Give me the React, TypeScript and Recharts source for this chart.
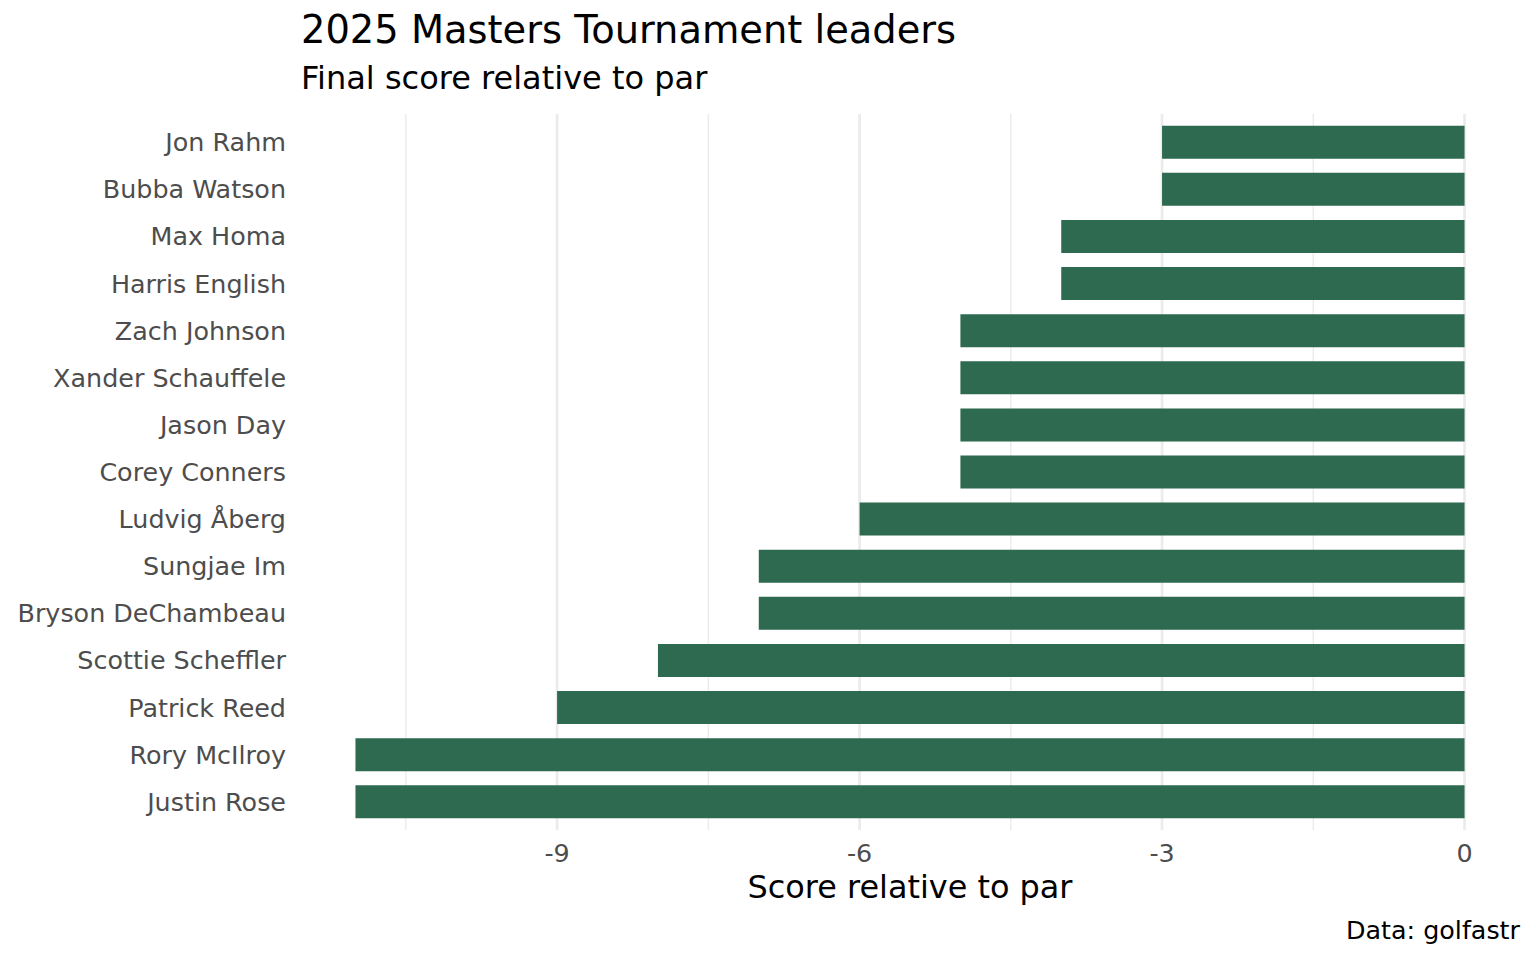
import React from "react";
import { BarChart, Bar, XAxis, YAxis, CartesianGrid } from "recharts";

const players = [
  "Jon Rahm",
  "Bubba Watson",
  "Max Homa",
  "Harris English",
  "Zach Johnson",
  "Xander Schauffele",
  "Jason Day",
  "Corey Conners",
  "Ludvig Åberg",
  "Sungjae Im",
  "Bryson DeChambeau",
  "Scottie Scheffler",
  "Patrick Reed",
  "Rory McIlroy",
  "Justin Rose",
];

const scores = [-3, -3, -4, -4, -5, -5, -5, -5, -6, -7, -7, -8, -9, -11, -11];

const majorTicks = [-9, -6, -3, 0];
const allTicks = [-10.5, -9, -7.5, -6, -4.5, -3, -1.5, 0];
const xDomain = [-11.55, 0.55];

const data = players.map((p, i) => ({ player: p, score: scores[i] }));

const FONT = "'DejaVu Sans', sans-serif";
const W = 1536;
const H = 960;

const GridLine = (props: any) => {
  if (props.index == null || props.index >= allTicks.length) return <g />;
  const v = allTicks[props.index];
  const major = majorTicks.includes(v);
  return (
    <line
      x1={props.x1}
      y1={props.y1}
      x2={props.x2}
      y2={props.y2}
      stroke="#ebebeb"
      strokeWidth={major ? 2.7 : 1.4}
    />
  );
};

export default function App() {
  return (
    <div style={{ position: "absolute", left: 0, top: 0, width: W, height: H, background: "#fff" }}>
      <BarChart
        width={W}
        height={H}
        data={data}
        layout="vertical"
        margin={{ top: 114, right: 16, bottom: 100, left: 0 }}
        barCategoryGap="15%"
      >
        <CartesianGrid horizontal={false} vertical={GridLine} />
        <XAxis
          type="number"
          domain={xDomain}
          ticks={allTicks}
          allowDataOverflow
          interval={0}
          height={30}
          axisLine={false}
          tickLine={false}
          tickSize={0}
          tickMargin={14}
          tickFormatter={(v: number) => (majorTicks.includes(v) ? String(v) : "")}
          tick={{ fill: "#4d4d4d", fontSize: 25.4, fontFamily: FONT }}
        />
        <YAxis
          type="category"
          dataKey="player"
          width={300}
          axisLine={false}
          tickLine={false}
          tickSize={0}
          tickMargin={14}
          interval={0}
          padding={{ top: 4.7, bottom: 4.7 }}
          tick={{ fill: "#4d4d4d", fontSize: 25.4, fontFamily: FONT }}
        />
        <Bar dataKey="score" fill="#2D6A4F" isAnimationActive={false} />
      </BarChart>
      <svg
        width={W}
        height={H}
        style={{ position: "absolute", left: 0, top: 0, pointerEvents: "none" }}
      >
        <text x={301} y={43.3} fontFamily={FONT} fontSize={38.4} fill="#000">
          2025 Masters Tournament leaders
        </text>
        <text x={301} y={88.5} fontFamily={FONT} fontSize={32} fill="#000">
          Final score relative to par
        </text>
        <text x={910} y={897.7} fontFamily={FONT} fontSize={31.9} fill="#000" textAnchor="middle">
          Score relative to par
        </text>
        <text x={1520} y={939.3} fontFamily={FONT} fontSize={25.4} fill="#000" textAnchor="end">
          Data: golfastr
        </text>
      </svg>
    </div>
  );
}
